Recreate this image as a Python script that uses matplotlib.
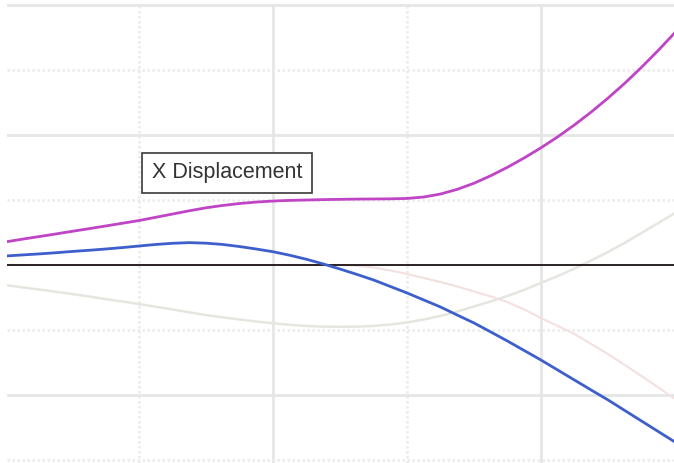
import matplotlib.pyplot as plt
import numpy as np

# sample positions along the track (every 0.125)
x = np.linspace(0, 5, 41)

# displacement components read at each sample
disp_x = [0.177, 0.198, 0.218, 0.238, 0.259, 0.279, 0.300, 0.321, 0.342, 0.367,
          0.392, 0.417, 0.440, 0.458, 0.473, 0.484, 0.492, 0.497, 0.500, 0.503,
          0.505, 0.507, 0.508, 0.509, 0.512, 0.523, 0.546, 0.582, 0.629, 0.687,
          0.752, 0.824, 0.902, 0.986, 1.078, 1.177, 1.284, 1.398, 1.521, 1.651, 1.788]
disp_y = [0.069, 0.077, 0.085, 0.094, 0.104, 0.113, 0.123, 0.134, 0.146, 0.158,
          0.167, 0.172, 0.168, 0.158, 0.142, 0.123, 0.102, 0.075, 0.044, 0.008,
          -0.031, -0.072, -0.115, -0.165, -0.215, -0.269, -0.323, -0.385, -0.446, -0.515,
          -0.585, -0.658, -0.731, -0.808, -0.885, -0.962, -1.038, -1.119, -1.200, -1.281, -1.362]
disp_z = [-0.154, -0.171, -0.188, -0.205, -0.223, -0.242, -0.262, -0.281, -0.300, -0.321,
          -0.342, -0.364, -0.385, -0.403, -0.419, -0.435, -0.448, -0.460, -0.469, -0.474,
          -0.475, -0.474, -0.469, -0.458, -0.442, -0.419, -0.392, -0.358, -0.319, -0.280,
          -0.238, -0.191, -0.138, -0.085, -0.027, 0.035, 0.100, 0.171, 0.246, 0.323, 0.400]
rot = [0.0] * 21 + [-0.006, -0.019, -0.042, -0.069, -0.100, -0.131, -0.165, -0.204, -0.242,
                    -0.285, -0.342, -0.408, -0.469, -0.531, -0.608, -0.685, -0.769, -0.854,
                    -0.942, -1.031]

label = "X Displacement"

fig = plt.figure(figsize=(6.74, 4.63), dpi=100)
ax = fig.add_axes([7 / 674, 0, 667 / 674, 459 / 463])

ax.set_xlim(2 / 134, 669 / 134)
ax.set_ylim(-198 / 130, 261 / 130)

# grid: solid majors, dotted minors
ax.set_xticks([2, 4])
ax.set_xticks([1, 3], minor=True)
ax.set_yticks([-1, 1, 2])
ax.set_yticks([-1.5, -0.5, 0.5, 1.5], minor=True)
ax.grid(which='major', color='#e6e6e6', linewidth=2.0, linestyle='-')
ax.grid(which='minor', color='#ebebeb', linewidth=1.8, linestyle=(0, (1, 1)))
ax.tick_params(which='both', length=0, labelbottom=False, labelleft=False)
for s in ax.spines.values():
    s.set_visible(False)

# faint background traces
ax.plot(x, disp_z, color='#e4e7df', linewidth=1.8, zorder=2)
ax.plot(x, rot, color='#f4e0e0', linewidth=1.5, zorder=2)

ax.axhline(0, color='#2a2222', linewidth=1.4, zorder=3)

ax.plot(x, disp_y, color='#3d5fcc', linewidth=2.0, zorder=4)
ax.plot(x, disp_x, color='#c044c6', linewidth=2.0, zorder=5)

ax.text(1.657, 0.708, label, ha='center', va='center', fontsize=15.5,
        family='Liberation Sans', color='#333333', zorder=6,
        bbox=dict(boxstyle='square,pad=0.45', facecolor='white', edgecolor='#3a3a3a', linewidth=1.2))

fig.savefig('out.png', dpi=100)
